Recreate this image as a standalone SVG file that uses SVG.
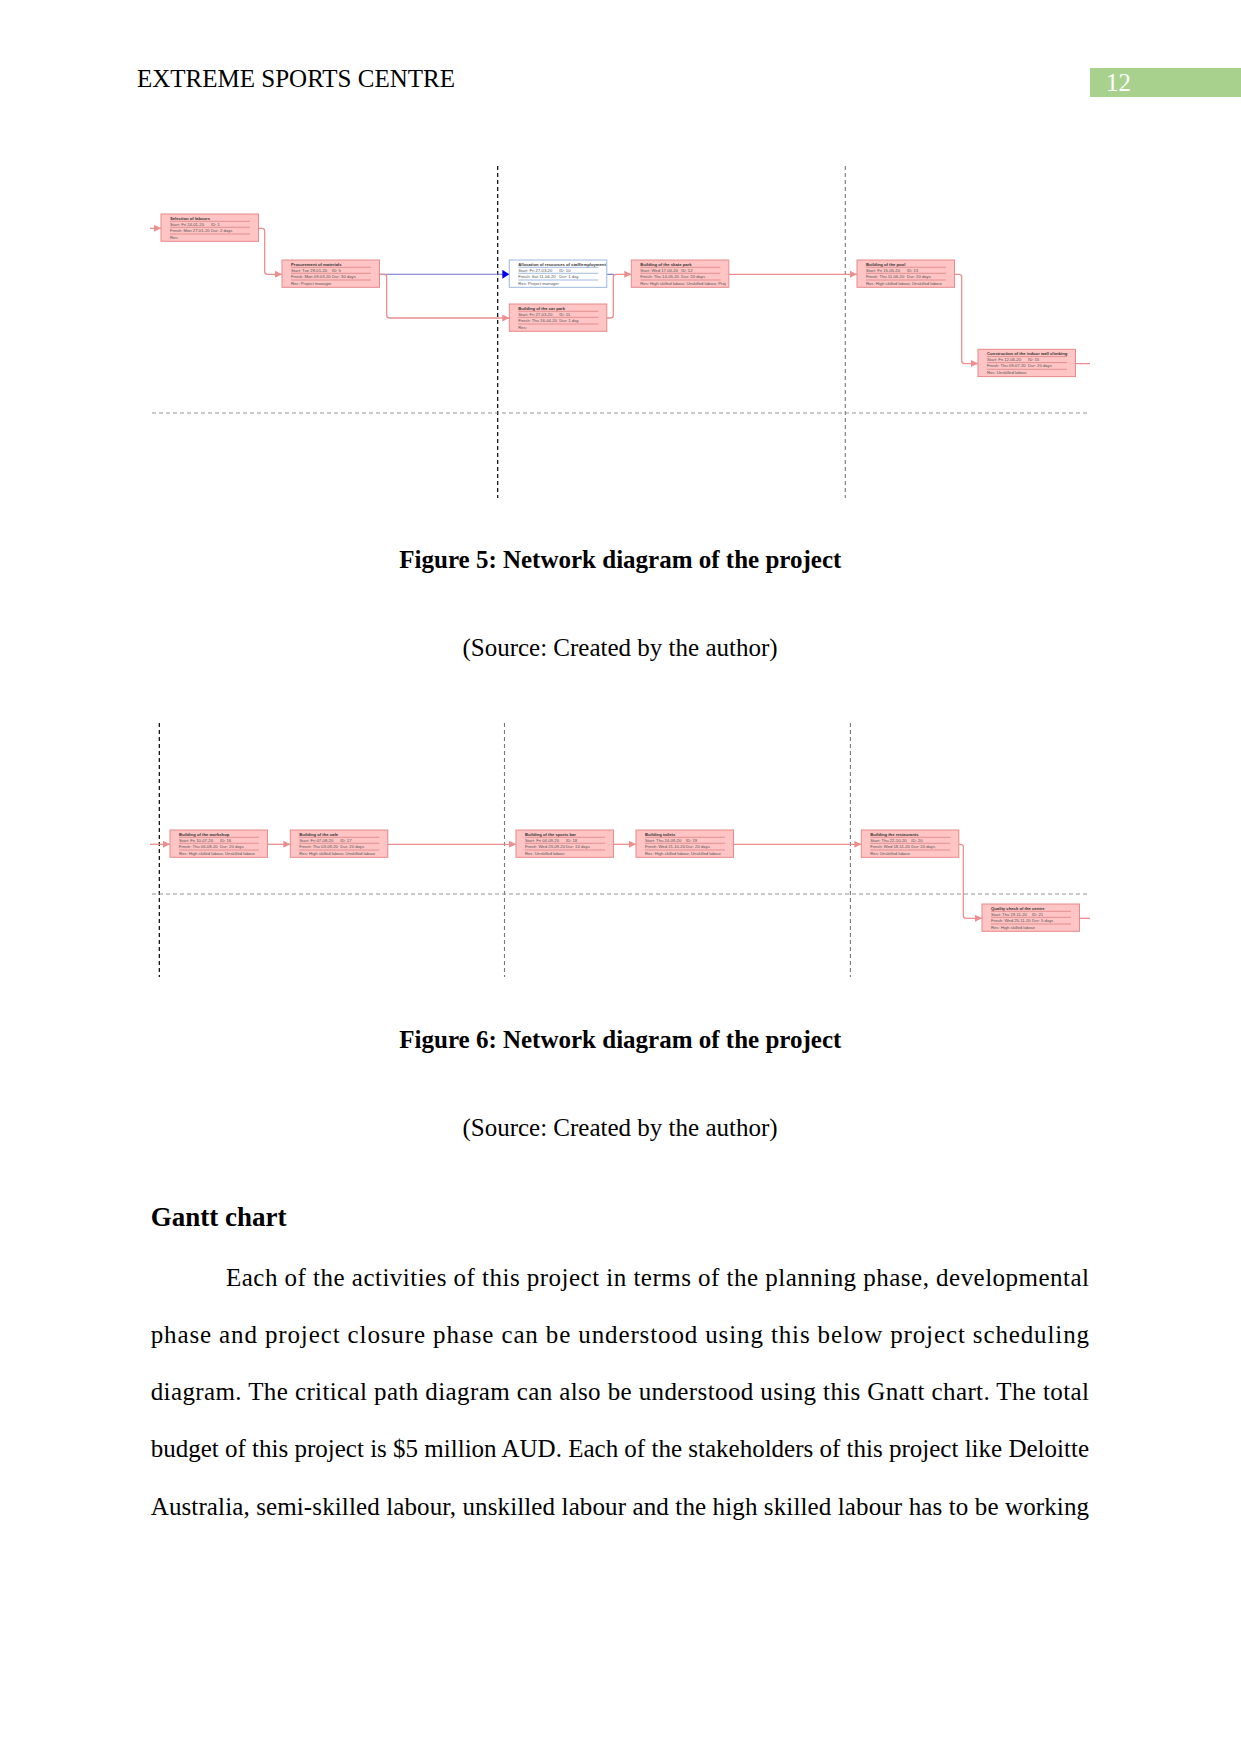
<svg xmlns="http://www.w3.org/2000/svg" width="1241" height="1754" viewBox="0 0 1241 1754">
<defs>
<style>
.doc{font-family:"Liberation Serif","Times New Roman",serif;fill:#000}
.hd{font-size:25px}
.cap{font-size:25px;font-weight:bold}
.body{font-size:25px}
.node rect{fill:#ffc4c4;stroke:#e88a8a;stroke-width:1}
.node line{stroke:#d87a7a;stroke-width:0.7}
.bnode rect{fill:#ffffff;stroke:#9ab8dc;stroke-width:1}
.bnode line{stroke:#7a9cd0;stroke-width:0.7}
.nt{font-family:"Liberation Sans",Arial,sans-serif;font-size:4.2px;fill:#555}
.nh{font-family:"Liberation Sans",Arial,sans-serif;font-size:4.2px;font-weight:bold;fill:#333}
.con{fill:none;stroke:#ec8e8e;stroke-width:1.3}
.conb{fill:none;stroke:#7070d0;stroke-width:1.1}
.vdk{stroke:#000;stroke-width:1.2;stroke-dasharray:4 3}
.vgr{stroke:#777;stroke-width:1.1;stroke-dasharray:4 3}
.hgr{stroke:#888;stroke-width:0.9;stroke-dasharray:4 3}
</style>
<marker id="ap" markerWidth="8" markerHeight="8" refX="7" refY="4" orient="auto" markerUnits="userSpaceOnUse">
<path d="M0,0.5 L7,4 L0,7.5 z" fill="#ec8e8e"/>
</marker>
<marker id="ab" markerWidth="8" markerHeight="9" refX="7" refY="4.5" orient="auto" markerUnits="userSpaceOnUse">
<path d="M0,0 L7,4.5 L0,9 z" fill="#0000ee"/>
</marker>
</defs>
<rect width="1241" height="1754" fill="#fff"/>

<!-- header -->
<text class="doc hd" x="137" y="87">EXTREME SPORTS CENTRE</text>
<rect x="1090" y="68" width="151" height="29" fill="#a9d18e"/>
<text class="hd" x="1106" y="91" fill="#ffffff" font-family="Liberation Serif,serif">12</text>

<!-- figure 5 guide lines -->
<g id="fig5-grid">
<line class="vdk" x1="497.7" y1="166" x2="497.7" y2="498"/>
<line class="vgr" x1="845.3" y1="166" x2="845.3" y2="498"/>
<line class="hgr" x1="152" y1="413" x2="1089" y2="413"/>
</g>

<g id="connectors-fig5">
<path class="con" marker-end="url(#ap)" d="M150,228.3 H161"/>
<path class="con" marker-end="url(#ap)" d="M258.5,228.3 H262 Q264.7,228.3 264.7,231 V271.5 Q264.7,274.3 267.5,274.3 H282"/>
<path class="conb" marker-end="url(#ab)" d="M379.5,274.3 H509.3"/>
<path class="con" marker-end="url(#ap)" d="M379.5,274.3 H384 Q386.7,274.3 386.7,277 V315.2 Q386.7,318 389.5,318 H509.3"/>
<path class="conb" d="M606.8,274.3 H614"/>
<path class="con" marker-end="url(#ap)" d="M606.8,318 H610.5 Q613.3,318 613.3,315.2 V277 Q613.3,274.3 616,274.3 H631.3"/>
<path class="con" marker-end="url(#ap)" d="M728.8,274.3 H857"/>
<path class="con" marker-end="url(#ap)" d="M954.5,274.3 H959 Q961.7,274.3 961.7,277 V360.8 Q961.7,363.6 964.5,363.6 H978"/>
<path class="con" d="M1075.5,363.6 H1090"/>
</g>

<g id="n1" class="node" transform="translate(161,214)">
<rect width="97.5" height="27.3"/>
<line x1="9" y1="7.3" x2="89" y2="7.3"/><line x1="9" y1="13.3" x2="89" y2="13.3"/><line x1="9" y1="20" x2="89" y2="20"/>
<text class="nh" x="9" y="5.5">Selection of labours</text>
<text class="nt" x="9" y="11.6">Start: Fri 24-01-20</text><text class="nt" x="50" y="11.6">ID: 1</text>
<text class="nt" x="9" y="18">Finish: Mon 27-01-20</text><text class="nt" x="50" y="18">Dur: 2 days</text>
<text class="nt" x="9" y="25">Res:</text>
</g>
<g id="n2" class="node" transform="translate(282,260)">
<rect width="97.5" height="27.3"/>
<line x1="9" y1="7.3" x2="89" y2="7.3"/><line x1="9" y1="13.3" x2="89" y2="13.3"/><line x1="9" y1="20" x2="89" y2="20"/>
<text class="nh" x="9" y="5.5">Procurement of materials</text>
<text class="nt" x="9" y="11.6">Start: Tue 28-01-20</text><text class="nt" x="50" y="11.6">ID: 5</text>
<text class="nt" x="9" y="18">Finish: Mon 09-03-20</text><text class="nt" x="50" y="18">Dur: 30 days</text>
<text class="nt" x="9" y="25">Res: Project manager</text>
</g>
<g id="n3" class="bnode" transform="translate(509.3,260)">
<rect width="97.5" height="27.3"/>
<line x1="9" y1="7.3" x2="89" y2="7.3"/><line x1="9" y1="13.3" x2="89" y2="13.3"/><line x1="9" y1="20" x2="89" y2="20"/>
<text class="nh" x="9" y="5.5">Allocation of resources of staff/employment</text>
<text class="nt" x="9" y="11.6">Start: Fri 27-03-20</text><text class="nt" x="50" y="11.6">ID: 10</text>
<text class="nt" x="9" y="18">Finish: Sat 11-04-20</text><text class="nt" x="50" y="18">Dur: 1 day</text>
<text class="nt" x="9" y="25">Res: Project manager</text>
</g>
<g id="n4" class="node" transform="translate(509.3,304)">
<rect width="97.5" height="27.3"/>
<line x1="9" y1="7.3" x2="89" y2="7.3"/><line x1="9" y1="13.3" x2="89" y2="13.3"/><line x1="9" y1="20" x2="89" y2="20"/>
<text class="nh" x="9" y="5.5">Building of the car park</text>
<text class="nt" x="9" y="11.6">Start: Fri 27-03-20</text><text class="nt" x="50" y="11.6">ID: 11</text>
<text class="nt" x="9" y="18">Finish: Thu 16-04-20</text><text class="nt" x="50" y="18">Dur: 1 day</text>
<text class="nt" x="9" y="25">Res:</text>
</g>
<g id="n5" class="node" transform="translate(631.3,260)">
<rect width="97.5" height="27.3"/>
<line x1="9" y1="7.3" x2="89" y2="7.3"/><line x1="9" y1="13.3" x2="89" y2="13.3"/><line x1="9" y1="20" x2="89" y2="20"/>
<text class="nh" x="9" y="5.5">Building of the skate park</text>
<text class="nt" x="9" y="11.6">Start: Wed 17-04-20</text><text class="nt" x="50" y="11.6">ID: 12</text>
<text class="nt" x="9" y="18">Finish: Thu 14-05-20</text><text class="nt" x="50" y="18">Dur: 20 days</text>
<text class="nt" x="9" y="25">Res: High skilled labour, Unskilled labour, Proj</text>
</g>
<g id="n6" class="node" transform="translate(857,260)">
<rect width="97.5" height="27.3"/>
<line x1="9" y1="7.3" x2="89" y2="7.3"/><line x1="9" y1="13.3" x2="89" y2="13.3"/><line x1="9" y1="20" x2="89" y2="20"/>
<text class="nh" x="9" y="5.5">Building of the pool</text>
<text class="nt" x="9" y="11.6">Start: Fri 15-05-20</text><text class="nt" x="50" y="11.6">ID: 13</text>
<text class="nt" x="9" y="18">Finish: Thu 11-06-20</text><text class="nt" x="50" y="18">Dur: 20 days</text>
<text class="nt" x="9" y="25">Res: High skilled labour, Unskilled labour</text>
</g>
<g id="n7" class="node" transform="translate(978,349.3)">
<rect width="97.5" height="27.3"/>
<line x1="9" y1="7.3" x2="89" y2="7.3"/><line x1="9" y1="13.3" x2="89" y2="13.3"/><line x1="9" y1="20" x2="89" y2="20"/>
<text class="nh" x="9" y="5.5">Construction of the indoor wall climbing</text>
<text class="nt" x="9" y="11.6">Start: Fri 12-06-20</text><text class="nt" x="50" y="11.6">ID: 15</text>
<text class="nt" x="9" y="18">Finish: Thu 09-07-20</text><text class="nt" x="50" y="18">Dur: 20 days</text>
<text class="nt" x="9" y="25">Res: Unskilled labour</text>
</g>

<text class="doc cap" x="620.3" y="568" text-anchor="middle">Figure 5: Network diagram of the project</text>
<text class="doc body" x="620" y="656" text-anchor="middle">(Source: Created by the author)</text>

<!-- figure 6 guide lines -->
<g id="fig6-grid">
<line class="vdk" x1="159.3" y1="723" x2="159.3" y2="977"/>
<line class="vgr" x1="504.5" y1="723" x2="504.5" y2="977"/>
<line class="vgr" x1="850.4" y1="723" x2="850.4" y2="977"/>
<line class="hgr" x1="152" y1="894" x2="1090" y2="894"/>
</g>

<g id="connectors-fig6">
<path class="con" marker-end="url(#ap)" d="M150,844.3 H170"/>
<path class="con" marker-end="url(#ap)" d="M267.5,844.3 H290.3"/>
<path class="con" marker-end="url(#ap)" d="M387.8,844.3 H516"/>
<path class="con" marker-end="url(#ap)" d="M613.5,844.3 H636"/>
<path class="con" marker-end="url(#ap)" d="M733.5,844.3 H861.3"/>
<path class="con" marker-end="url(#ap)" d="M958.8,844.3 H960.5 Q963.3,844.3 963.3,847 V915.5 Q963.3,918.3 966,918.3 H982"/>
<path class="con" d="M1079.5,918.3 H1090"/>
</g>

<g id="f6a" class="node" transform="translate(170,830)">
<rect width="97.5" height="27.3"/>
<line x1="9" y1="7.3" x2="89" y2="7.3"/><line x1="9" y1="13.3" x2="89" y2="13.3"/><line x1="9" y1="20" x2="89" y2="20"/>
<text class="nh" x="9" y="5.5">Building of the workshop</text>
<text class="nt" x="9" y="11.6">Start: Fri 10-07-20</text><text class="nt" x="50" y="11.6">ID: 16</text>
<text class="nt" x="9" y="18">Finish: Thu 06-08-20</text><text class="nt" x="50" y="18">Dur: 20 days</text>
<text class="nt" x="9" y="25">Res: High skilled labour, Unskilled labour</text>
</g>
<g id="f6b" class="node" transform="translate(290.3,830)">
<rect width="97.5" height="27.3"/>
<line x1="9" y1="7.3" x2="89" y2="7.3"/><line x1="9" y1="13.3" x2="89" y2="13.3"/><line x1="9" y1="20" x2="89" y2="20"/>
<text class="nh" x="9" y="5.5">Building of the cafe</text>
<text class="nt" x="9" y="11.6">Start: Fri 07-08-20</text><text class="nt" x="50" y="11.6">ID: 17</text>
<text class="nt" x="9" y="18">Finish: Thu 03-09-20</text><text class="nt" x="50" y="18">Dur: 20 days</text>
<text class="nt" x="9" y="25">Res: High skilled labour, Unskilled labour</text>
</g>
<g id="f6c" class="node" transform="translate(516,830)">
<rect width="97.5" height="27.3"/>
<line x1="9" y1="7.3" x2="89" y2="7.3"/><line x1="9" y1="13.3" x2="89" y2="13.3"/><line x1="9" y1="20" x2="89" y2="20"/>
<text class="nh" x="9" y="5.5">Building of the sports bar</text>
<text class="nt" x="9" y="11.6">Start: Fri 04-09-20</text><text class="nt" x="50" y="11.6">ID: 18</text>
<text class="nt" x="9" y="18">Finish: Wed 23-09-20</text><text class="nt" x="50" y="18">Dur: 14 days</text>
<text class="nt" x="9" y="25">Res: Unskilled labour</text>
</g>
<g id="f6d" class="node" transform="translate(636,830)">
<rect width="97.5" height="27.3"/>
<line x1="9" y1="7.3" x2="89" y2="7.3"/><line x1="9" y1="13.3" x2="89" y2="13.3"/><line x1="9" y1="20" x2="89" y2="20"/>
<text class="nh" x="9" y="5.5">Building toilets</text>
<text class="nt" x="9" y="11.6">Start: Thu 24-09-20</text><text class="nt" x="50" y="11.6">ID: 19</text>
<text class="nt" x="9" y="18">Finish: Wed 21-10-20</text><text class="nt" x="50" y="18">Dur: 20 days</text>
<text class="nt" x="9" y="25">Res: High skilled labour, Unskilled labour</text>
</g>
<g id="f6e" class="node" transform="translate(861.3,830)">
<rect width="97.5" height="27.3"/>
<line x1="9" y1="7.3" x2="89" y2="7.3"/><line x1="9" y1="13.3" x2="89" y2="13.3"/><line x1="9" y1="20" x2="89" y2="20"/>
<text class="nh" x="9" y="5.5">Building the restaurants</text>
<text class="nt" x="9" y="11.6">Start: Thu 22-10-20</text><text class="nt" x="50" y="11.6">ID: 20</text>
<text class="nt" x="9" y="18">Finish: Wed 18-11-20</text><text class="nt" x="50" y="18">Dur: 20 days</text>
<text class="nt" x="9" y="25">Res: Unskilled labour</text>
</g>
<g id="f6f" class="node" transform="translate(982,904)">
<rect width="97.5" height="27.3"/>
<line x1="9" y1="7.3" x2="89" y2="7.3"/><line x1="9" y1="13.3" x2="89" y2="13.3"/><line x1="9" y1="20" x2="89" y2="20"/>
<text class="nh" x="9" y="5.5">Quality check of the centre</text>
<text class="nt" x="9" y="11.6">Start: Thu 19-11-20</text><text class="nt" x="50" y="11.6">ID: 21</text>
<text class="nt" x="9" y="18">Finish: Wed 25-11-20</text><text class="nt" x="50" y="18">Dur: 5 days</text>
<text class="nt" x="9" y="25">Res: High skilled labour</text>
</g>

<text class="doc cap" x="620.3" y="1048" text-anchor="middle">Figure 6: Network diagram of the project</text>
<text class="doc body" x="620" y="1136" text-anchor="middle">(Source: Created by the author)</text>

<text class="doc" x="150.7" y="1226" font-size="27" font-weight="bold">Gantt chart</text>

<g class="doc body">
<text x="226" y="1286" textLength="863" lengthAdjust="spacing">Each of the activities of this project in terms of the planning phase, developmental</text>
<text x="150.7" y="1343" textLength="938.3" lengthAdjust="spacing">phase and project closure phase can be understood using this below project scheduling</text>
<text x="150.7" y="1400" textLength="938.3" lengthAdjust="spacing">diagram. The critical path diagram can also be understood using this Gnatt chart. The total</text>
<text x="150.7" y="1457.3" textLength="938.3" lengthAdjust="spacing">budget of this project is $5 million AUD. Each of the stakeholders of this project like Deloitte</text>
<text x="150.7" y="1515" textLength="938.3" lengthAdjust="spacing">Australia, semi-skilled labour, unskilled labour and the high skilled labour has to be working</text>
</g>
</svg>
